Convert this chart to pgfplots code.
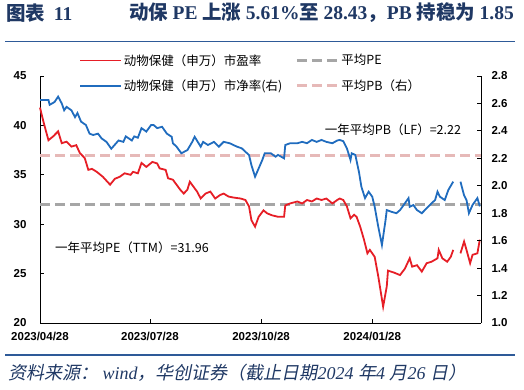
\documentclass[border=0pt]{standalone}
\usepackage{pgfplots}
\pgfplotsset{compat=1.18}
\usepackage{pgfplotstable}
\usepackage{fontspec}
\setmainfont{Liberation Sans}
\newfontfamily\cjk{Noto Sans CJK SC}
\newfontfamily\cjkit[FakeSlant=0.2]{Noto Sans CJK SC}
\newfontfamily\tnr{Liberation Serif}
\definecolor{pered}{RGB}{230,30,38}
\definecolor{pbblue}{RGB}{32,108,190}
\definecolor{avggray}{RGB}{166,166,166}
\definecolor{avgpink}{RGB}{230,185,184}
\definecolor{navy}{RGB}{31,56,100}
\definecolor{rule}{RGB}{46,90,152}

\pgfplotstableread{
d pe
0 41.8
3 40.3
7 38.5
11 38.9
15 39.4
18 38.2
22 38.35
26 37.85
30 38.0
33 37.2
37 36.7
40 35.5
43 35.6
47 35.3
52 34.8
58 34.0
62 34.6
66 34.8
70 35.15
75 35.0
77 35.3
81 35.15
84 36.2
88 35.8
93 36.3
97 36.15
99 35.65
104 35.5
106 34.65
110 34.5
116 33.5
119 33.1
122 33.5
124 34.3
127 33.8
130 33.3
133 32.6
137 33.1
141 33.3
145 32.6
149 32.95
152 33.1
156 32.8
160 32.7
166 32.6
170 32.45
173 31.8
175 30.4
178 29.75
181 30.75
185 31.4
188 31.1
192 30.9
197 30.75
202 30.75
203 31.9
207 32.1
213 32.3
217 32.1
221 32.45
225 32.3
229 32.6
233 32.45
237 32.6
242 32.1
246 32.45
248 32.6
251 32.45
254 31.8
257 30.6
260 30.95
262 30.75
265 29.75
268 28.5
271 27.05
273 27.4
277 26.7
280 24.7
284 21.65
287 23.7
288 25.3
293 25.1
298 24.85
302 25.5
306 26.55
308 25.7
312 25.85
316 25.2
320 26.05
324 26.2
329 26.55
330 27.4
333 26.55
337 26.2
340 26.7
342 27.4
344 nan
348 27.05
351 28.25
353 27.4
356 26.05
358 26.9
362 27.05
364 28.43
}\petable

\pgfplotstableread{
d pb
0 2.625
7 2.625
8 2.59
12 2.61
15 2.65
18 2.60
20 2.55
22 2.575
26 2.55
29 2.50
31 2.53
34 2.467
38 2.443
41 2.38
44 2.37
48 2.38
51 2.345
55 2.32
59 2.27
62 2.30
65 2.33
69 2.32
71 2.36
76 2.33
78 2.36
81 2.35
84 2.42
88 2.395
92 2.443
94 2.443
97 2.42
101 2.43
105 2.38
109 2.357
110 2.31
113 2.285
117 2.237
122 2.26
126 2.32
128 2.357
133 2.285
135 2.32
139 2.297
144 2.32
148 2.285
152 2.32
157 2.31
163 2.285
167 2.273
170 2.248
173 2.224
175 2.15
178 2.066
181 2.127
184 2.188
186 2.237
191 2.237
195 2.212
197 2.225
202 2.20
203 2.297
207 2.31
213 2.31
217 2.32
221 2.31
225 2.334
229 2.32
233 2.334
237 2.32
242 2.31
246 2.33
248 2.334
251 2.325
254 2.273
257 2.188
258 2.237
261 2.224
264 2.10
266 1.993
269 1.91
272 1.957
275 1.92
277 1.847
280 1.70
283 1.568
286 1.75
287 1.823
291 1.81
295 1.80
298 1.823
302 1.872
305 1.91
306 1.847
309 1.86
312 1.823
316 1.80
320 1.836
324 1.872
327 1.896
329 1.957
331 1.92
335 1.896
338 1.97
342 2.03
344 nan
348 2.03
351 1.93
353 1.896
355 1.80
358 1.86
362 1.91
364 1.85
}\pbtable

\pgfplotsset{
  base/.style={
    scale only axis, width=441bp, height=247bp,
    xmin=0, xmax=365,
    at={(40bp,67bp)}, anchor=south west,
    tick align=inside, major tick length=4bp,
    axis line style={black, line width=0.8bp, -},
    every tick/.style={black, line width=0.8bp},
    ticklabel style={font=\fontsize{11.5bp}{13bp}\selectfont\bfseries},
    /pgf/number format/assume math mode=true,
    unbounded coords=jump,
    clip=false,
  }
}

\begin{document}
\begin{tikzpicture}
\path[use as bounding box] (0,0) rectangle (524bp,390bp);

% title
\node[anchor=west, text=navy, inner sep=0] at (6bp,377bp)
  {\fontsize{19.5bp}{22bp}\selectfont{\cjk\bfseries 图表}\hspace{0.45em}{\tnr\bfseries 11}};
\node[anchor=east, text=navy, inner sep=0] at (514bp,377bp)
  {\fontsize{19.5bp}{22bp}\selectfont{\cjk\bfseries 动保 }{\tnr\bfseries PE }{\cjk\bfseries 上涨 }{\tnr\bfseries 5.61\%}{\cjk\bfseries 至 }{\tnr\bfseries 28.43}{\cjk\bfseries ，}{\tnr\bfseries PB }{\cjk\bfseries 持稳为 }{\tnr\bfseries 1.85}};
\draw[rule, line width=1.6bp] (5bp,348.3bp) -- (515bp,348.3bp);
\draw[rule, line width=1.6bp] (5bp,35bp) -- (515bp,35bp);
% source
\node[anchor=west, text=navy, inner sep=0] at (8bp,17bp)
  {\fontsize{18bp}{21bp}\selectfont\cjkit 资料来源：{\tnr\itshape\ wind}，华创证券（截止日期{\tnr\itshape 2024\ }年{\tnr\itshape 4\ }月{\tnr\itshape 26\ }日）};

\begin{axis}[base,
  axis y line*=left, axis x line*=bottom,
  ymin=20, ymax=45, ytick={20,25,...,45},
  xtick={0,91,183,275},
  xticklabels={2023/04/28,2023/07/28,2023/10/28,2024/01/28},
  yticklabel style={xshift=-10bp},
  xticklabel style={yshift=-6bp},
]
\addplot[avggray, line width=3bp, dash pattern=on 10bp off 5bp] coordinates {(0,31.96) (365,31.96)};
\addplot[pered, line width=1.8bp] table[x=d, y=pe] {\petable};
\end{axis}

\begin{axis}[base,
  axis y line*=right, axis x line=none,
  ymin=1.0, ymax=2.8, ytick={1.0,1.2,...,2.8},
  yticklabel style={xshift=7bp, /pgf/number format/.cd, fixed, fixed zerofill, precision=1, assume math mode=true},
  legend columns=2,
  legend style={draw=none, fill=none, inner sep=0pt,
    at={(axis description cs:0.0884,1.012)}, anchor=west,
    nodes={inner sep=2bp, font=\fontsize{12.5bp}{15bp}\selectfont\cjk},
    row sep=9bp,
    /tikz/every even column/.append style={column sep=11bp}},
  legend cell align=left,
  legend image code/.code={\draw[#1] (0bp,0bp) -- (41bp,0bp);},
]
\addlegendimage{pered, line width=1.8bp}
\addlegendentry{动物保健（申万）市盈率}
\addlegendimage{avggray, line width=3bp, dash pattern=on 10bp off 5bp}
\addlegendentry{平均PE}
\addlegendimage{pbblue, line width=1.8bp}
\addlegendentry{动物保健（申万）市净率(右)}
\addlegendimage{avgpink, line width=3bp, dash pattern=on 10bp off 5bp}
\addlegendentry{平均PB（右）}
\addplot[avgpink, line width=3bp, dash pattern=on 10bp off 5bp, forget plot] coordinates {(0,2.22) (365,2.22)};
\addplot[pbblue, line width=1.8bp, forget plot] table[x=d, y=pb] {\pbtable};
\end{axis}

\node[anchor=center, inner sep=0] at (393bp,260bp)
  {\fontsize{12.5bp}{15bp}\selectfont\cjk 一年平均PB（LF）=2.22};
\node[anchor=center, inner sep=0] at (132bp,142bp)
  {\fontsize{12.5bp}{15bp}\selectfont\cjk 一年平均PE（TTM）=31.96};
\end{tikzpicture}
\end{document}
